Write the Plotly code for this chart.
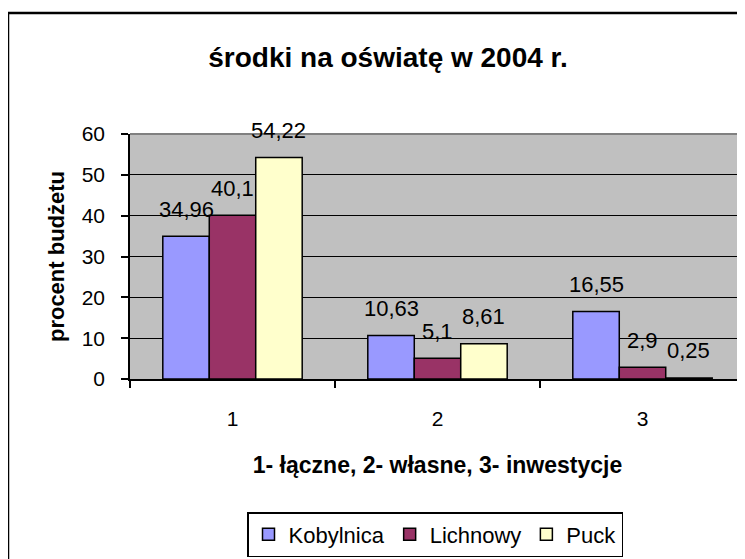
import plotly.graph_objects as go

categories = ["1", "2", "3"]
series_names = ["Kobylnica", "Lichnowy", "Puck"]
kobylnica = [34.96, 10.63, 16.55]
lichnowy = [40.1, 5.1, 2.9]
puck = [54.22, 8.61, 0.25]
series_values = [kobylnica, lichnowy, puck]
colors = ["#9999FF", "#993366", "#FFFFCC"]
y_ticks = [0, 10, 20, 30, 40, 50, 60]

# page has an 8px body margin; figure sized so it fits the window exactly
OFF = 8
W, H = 745 - OFF, 559 - OFF
ML, MR, MT, MB = 130 - OFF, 0, 134 - OFF, 559 - 379
BARGAP = 0.32
FONT = "Liberation Sans, Arial, sans-serif"

fig = go.Figure()
for name, vals, col in zip(series_names, series_values, colors):
    fig.add_trace(go.Bar(
        x=categories, y=vals, name=name,
        marker=dict(color=col, line=dict(color="black", width=1.5)),
    ))

# data labels (Excel style, sitting above bars)
plot_w = W - ML - MR
plot_h = H - MT - MB
bar_px = plot_w / len(categories) * (1 - BARGAP) / len(series_names)
annotations = []
for si, vals in enumerate(series_values):
    off = (si - (len(series_names) - 1) / 2) * bar_px
    for ci, v in enumerate(vals):
        annotations.append(dict(
            x=ci, y=v, xref="x", yref="y", text=str(v).replace(".", ","),
            showarrow=False, xshift=off, yshift=27, yanchor="middle",
            font=dict(family=FONT, size=22, color="black"),
        ))

fig.update_layout(
    width=W, height=H,
    margin=dict(l=ML, r=MR, t=MT, b=MB, autoexpand=False),
    paper_bgcolor="white", plot_bgcolor="#C0C0C0",
    barmode="group", bargap=BARGAP, bargroupgap=0,
    font=dict(family=FONT, color="black"),
    title=dict(text="<b>środki na oświatę w 2004 r.</b>", x=(388 - OFF) / W, xanchor="center",
               y=1 - (57 - OFF) / H, yanchor="middle", font=dict(size=28, family=FONT)),
    annotations=annotations,
    showlegend=True,
    legend=dict(orientation="h", x=(435 - ML - OFF) / plot_w, xanchor="center",
                y=-(512 - 379) / plot_h, yanchor="top",
                bgcolor="white", bordercolor="black", borderwidth=1.5,
                font=dict(size=22, family=FONT), itemclick=False),
    shapes=[
        dict(type="rect", xref="paper", yref="paper", x0=(8 - OFF - ML) / plot_w, x1=1.2,
             y0=-1.0, y1=1 + (MT - (13 - OFF)) / plot_h, line=dict(color="black", width=2.5),
             fillcolor="rgba(0,0,0,0)", layer="below"),
        dict(type="line", xref="paper", yref="paper", x0=0, x1=1, y0=1, y1=1,
             line=dict(color="#808080", width=2), layer="above"),
    ],
)

fig.update_yaxes(
    range=[0, 60], tickvals=y_ticks, ticks="outside", ticklen=7, tickwidth=1.5,
    tickcolor="black", showline=True, linecolor="black", linewidth=1.5,
    showgrid=True, gridcolor="black", gridwidth=1.2, zeroline=False,
    tickfont=dict(size=21, family=FONT), ticklabelstandoff=12,
    title=dict(text="<b>procent budżetu</b>", font=dict(size=22, family=FONT), standoff=11),
    automargin=False,
)
fig.update_xaxes(
    type="category", range=[-0.5, len(categories) - 0.5],
    ticks="outside", tickson="boundaries", ticklen=7, tickwidth=1.5,
    tickcolor="black", showline=True, linecolor="black", linewidth=1.5,
    showgrid=False, tickfont=dict(size=21, family=FONT), ticklabelstandoff=20,
    title=dict(text="<b>1- łączne, 2- własne, 3- inwestycje</b>",
               font=dict(size=23, family=FONT), standoff=28),
    automargin=False,
)

fig.write_html("out.html")
